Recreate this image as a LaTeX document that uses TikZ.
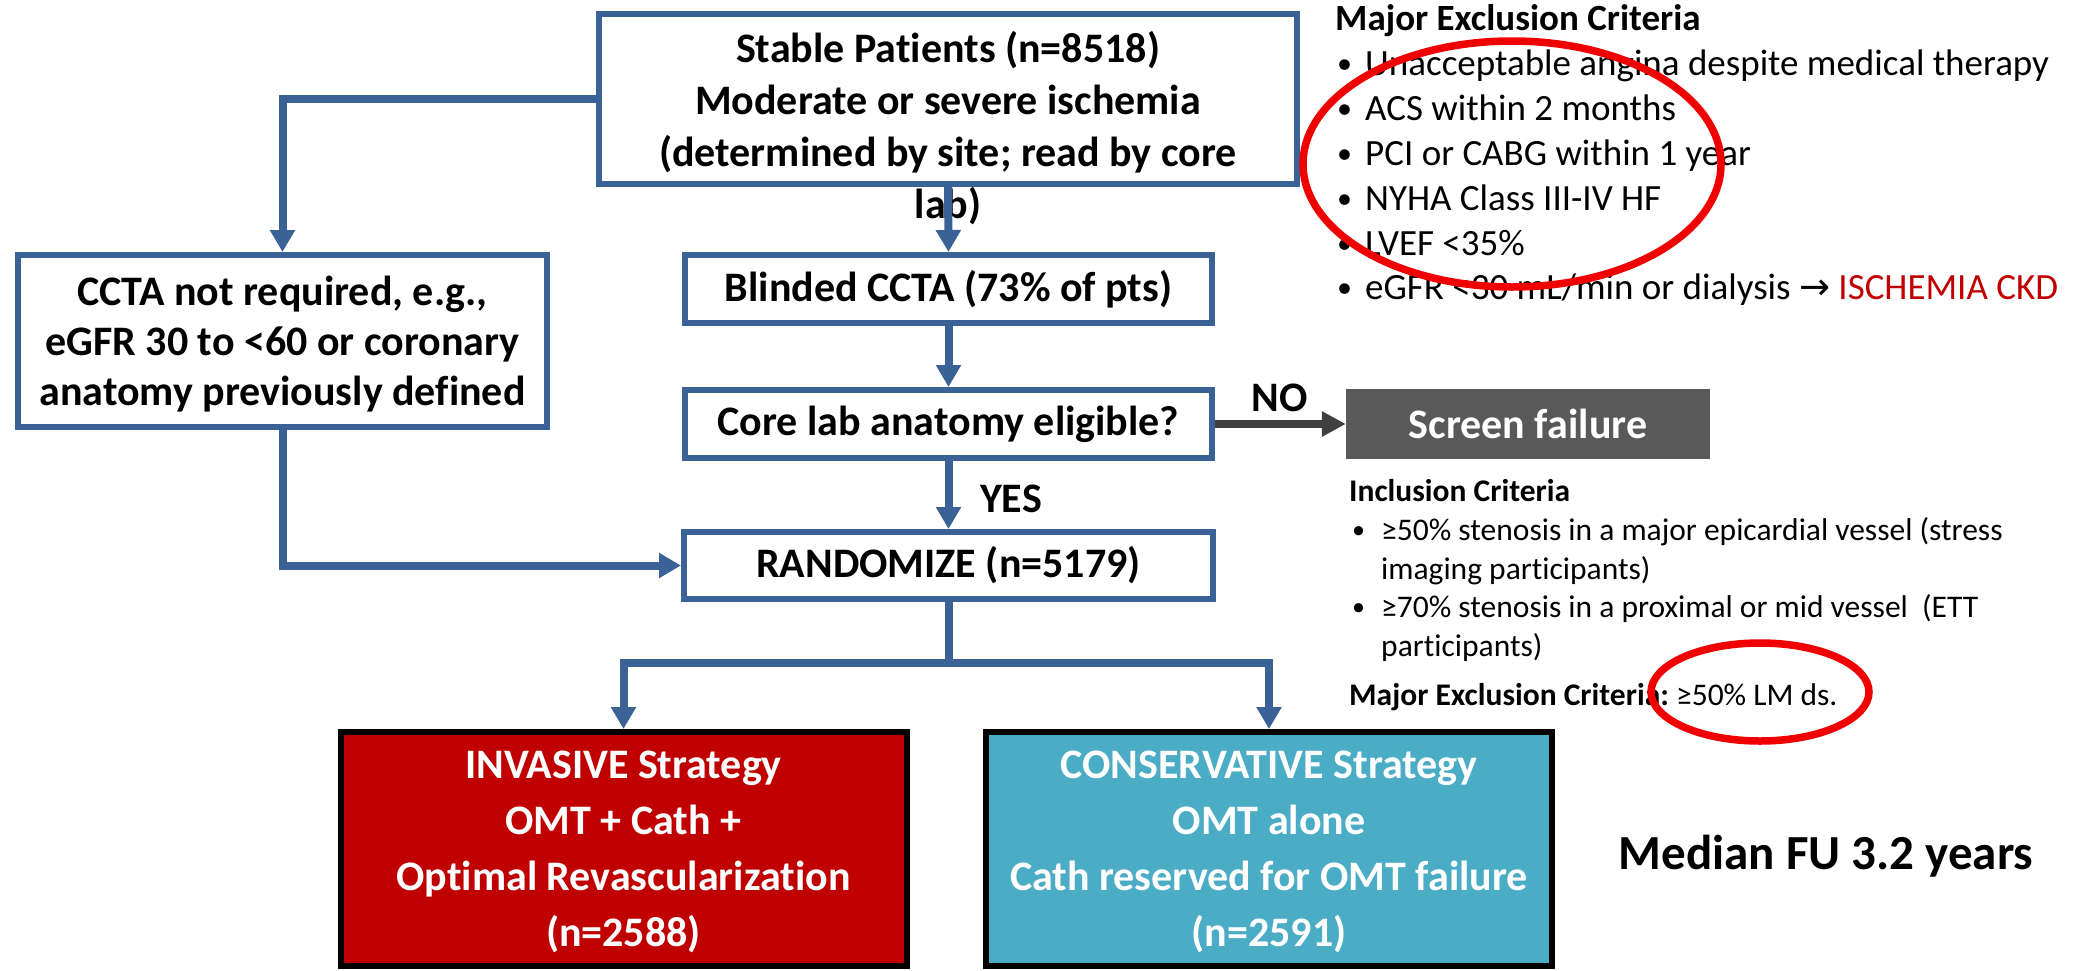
\documentclass[tikz,border=0pt]{standalone}
\usepackage{fontspec}
\setmainfont{Carlito}[Ligatures=NoCommon]
\newfontfamily\djv{DejaVu Sans}
\usetikzlibrary{arrows.meta}
\definecolor{flowblue}{HTML}{3A6296}
\definecolor{darkline}{HTML}{404040}
\definecolor{screengray}{HTML}{595959}
\definecolor{invred}{HTML}{C00000}
\definecolor{consblue}{HTML}{4BACC6}
\definecolor{ringred}{HTML}{F00000}
\tikzset{
  flowbox/.style={draw=flowblue, line width=6pt, fill=white, inner sep=0pt},
  boxtxt/.style={font=\bfseries\fontsize{42}{52}\selectfont, align=center, inner sep=0pt},
  link/.style={draw=flowblue, line width=8pt},
  arr/.style={link, -{Triangle[length=22pt,width=24pt]}},
  grayarr/.style={draw=darkline, line width=7.5pt, -{Triangle[length=24pt,width=24pt]}},
  stratbox/.style={draw=black, line width=6pt, inner sep=0pt, minimum width=566pt, minimum height=234pt},
  excl/.style={anchor=base west, font=\fontsize{37}{45}\selectfont, inner sep=0pt},
  exbul/.style={anchor=base west, font=\fontsize{30}{45}\selectfont, inner sep=0pt},
  incl/.style={anchor=base west, font=\fontsize{31.5}{38}\selectfont, inner sep=0pt},
  inbul/.style={anchor=base west, font=\fontsize{26}{38}\selectfont, inner sep=0pt},
  ring/.style={draw=ringred, line width=7.5pt},
  lbl/.style={anchor=base, font=\bfseries\fontsize{42}{52}\selectfont, inner sep=0pt}
}
\begin{document}
\begin{tikzpicture}[x=1pt,y=-1pt]
\useasboundingbox (0,0) rectangle (2090,970);
% flow boxes
\node[flowbox, minimum width=698pt, minimum height=170pt] (top) at (948,99) {};
\node[boxtxt] (toptxt) at (948,128) {Stable Patients (n=8518)\\Moderate or severe ischemia\\(determined by site; read by core\\lab)};
\node[flowbox, minimum width=529pt, minimum height=172pt] (left) at (282.5,341) {};
\node[boxtxt, font=\bfseries\fontsize{42}{50}\selectfont] (lefttxt) at (282.5,344) {CCTA not required, e.g.,\\eGFR 30 to <60 or coronary\\anatomy previously defined};
\node[flowbox, minimum width=527pt, minimum height=68pt, boxtxt] (blind) at (948.5,289) {Blinded CCTA (73\% of pts)};
\node[flowbox, minimum width=527pt, minimum height=68pt, boxtxt] (core) at (948.5,424) {Core lab anatomy eligible?};
\node[flowbox, minimum width=529pt, minimum height=67pt, boxtxt] (rand) at (948.5,565.5) {RANDOMIZE (n=5179)};
\node[fill=screengray, minimum width=364pt, minimum height=70pt, inner sep=0pt, text=white, font=\bfseries\fontsize{42}{52}\selectfont] (screen) at (1528,424) {Screen failure};
\node[stratbox, fill=invred] (inv) at (623.5,849) {};
\node[boxtxt, text=white, font=\bfseries\fontsize{42}{56}\selectfont] (invtxt) at (623.5,852) {INVASIVE Strategy\\OMT + Cath +\\Optimal Revascularization\\(n=2588)};
\node[stratbox, fill=consblue] (cons) at (1269,849) {};
\node[boxtxt, text=white, font=\bfseries\fontsize{42}{56}\selectfont] (constxt) at (1269,852) {CONSERVATIVE Strategy\\OMT alone\\Cath reserved for OMT failure\\(n=2591)};
% connectors
\draw[arr] (top.west) -| (left.north);
\draw[arr] (top.south) -- (blind.north);
\draw[arr] (blind.south) -- (core.north);
\draw[arr] (core.south) -- (rand.north);
\draw[arr] (left.south) |- (rand.west);
\coordinate (split) at (948.5,663);
\draw[link] (rand.south) -- (split);
\draw[arr] (split) -| (inv.north);
\draw[arr] (split) -| (cons.north);
\draw[grayarr] (core.east) -- (screen.west);
\node[lbl] (yes) at (1011,512) {YES};
\node[lbl] (no) at (1280,411) {NO};
% exclusion criteria
\node[excl, font=\bfseries\fontsize{37}{45}\selectfont] (ex0) at (1335,30) {Major Exclusion Criteria};
\node[exbul] (b1) at (1337,73) {•};
\node[excl] (ex1) at (1365,75) {Unacceptable angina despite medical therapy};
\node[exbul] (b2) at (1337,118) {•};
\node[excl] (ex2) at (1365,120) {ACS within 2 months};
\node[exbul] (b3) at (1337,163) {•};
\node[excl] (ex3) at (1365,165) {PCI or CABG within 1 year};
\node[exbul] (b4) at (1337,208) {•};
\node[excl] (ex4) at (1365,210) {NYHA Class III-IV HF};
\node[exbul] (b5) at (1337,253) {•};
\node[excl] (ex5) at (1365,255) {LVEF <35\%};
\node[exbul] (b6) at (1337,297) {•};
\node[excl] (ex6) at (1365,299) {eGFR <30 mL/min or dialysis {\djv\fontsize{37}{45}\selectfont →} \textcolor{invred}{ISCHEMIA CKD}};
% inclusion criteria
\node[incl, font=\bfseries\fontsize{31.5}{38}\selectfont] (in0) at (1349,501) {Inclusion Criteria};
\node[inbul] (ib1) at (1352,538) {•};
\node[incl] (in1) at (1381,540) {≥50\% stenosis in a major epicardial vessel (stress};
\node[incl] (in2) at (1381,579) {imaging participants)};
\node[inbul] (ib2) at (1352,615) {•};
\node[incl] (in3) at (1381,617) {≥70\% stenosis in a proximal or mid vessel\ \ (ETT};
\node[incl] (in4) at (1381,656) {participants)};
\node[incl] (in5) at (1349,705) {\textbf{Major Exclusion Criteria:}~≥50\% LM ds.};
% follow-up
\node[lbl, font=\bfseries\fontsize{49}{58}\selectfont] (fu) at (1826,869) {Median FU 3.2 years};
% red rings
\draw[ring] (1512,164) ellipse [x radius=209, y radius=123];
\draw[ring] (1760,692) ellipse [x radius=109, y radius=49];
\end{tikzpicture}
\end{document}
